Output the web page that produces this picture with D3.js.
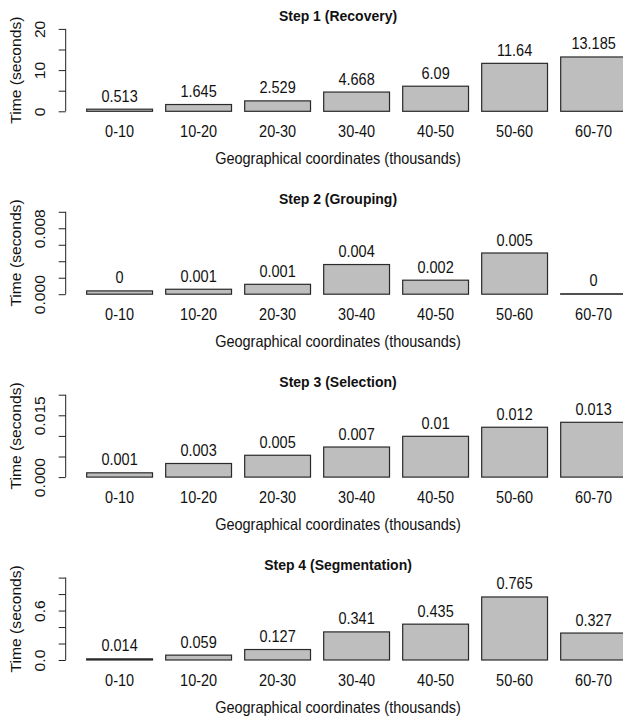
<!DOCTYPE html>
<html>
<head>
<meta charset="utf-8">
<script src="https://cdn.jsdelivr.net/npm/d3@7"></script>
<style>
  html, body { margin: 0; padding: 0; background: #fff; }
  svg { display: block; font-family: "Liberation Sans", Arial, sans-serif; }
</style>
</head>
<body>
<svg class="chart" width="623" height="723"></svg>
<script>
// categories shared by every panel
const categories = ["0-10", "10-20", "20-30", "30-40", "40-50", "50-60", "60-70"];

const titles = ["Step 1 (Recovery)", "Step 2 (Grouping)", "Step 3 (Selection)", "Step 4 (Segmentation)"];

// time in seconds
const recovery = [0.513, 1.645, 2.529, 4.668, 6.09, 11.64, 13.185];
const grouping = [0.0004, 0.0006, 0.0012, 0.0036, 0.0017, 0.0050, 0.00005];
const selection = [0.00104, 0.0033, 0.0053, 0.0073, 0.0099, 0.0121, 0.0133];
const segmentation = [0.014, 0.059, 0.127, 0.341, 0.435, 0.765, 0.327];

// y axis: top of range, ticks and which ticks carry a label
const yMax = [20, 0.010, 0.020, 1.0];
const yTicks = [
  [0, 5, 10, 15, 20],
  [0, 0.002, 0.004, 0.006, 0.008, 0.010],
  [0, 0.005, 0.010, 0.015, 0.020],
  [0, 0.2, 0.4, 0.6, 0.8, 1.0]
];
const yTickLabels = [
  ["0", "", "10", "", "20"],
  ["0.000", "", "", "", "0.008", ""],
  ["0.000", "", "", "0.015", ""],
  ["0.0", "", "", "0.6", "", ""]
];

const series = [recovery, grouping, selection, segmentation];

const svg = d3.select('.chart');

const panelStep = 182.9;
const zero0 = 111.3;     // baseline of the first panel
const spanH = 82.4;      // pixels from 0 to yMax
const axisX = 65.7;
const centerX = 338;
const ink = "#111";
const fs = 14.5;
const stretch = 1.08;    // glyphs in the picture are a bit taller than wide

const x = d3.scaleBand()
  .domain(categories)
  .range([80.1, 80.1 + 79 * categories.length])
  .paddingInner(0.1667)
  .paddingOuter(0.0833);

const fmt = v => String(Math.round(v * 1000) / 1000);

// horizontal text, stretched a little vertically
const tf = (px, py) => `translate(${px},${py}) scale(1,${stretch})`;
// vertical text reading upwards
const tfv = (px, py) => `translate(${px},${py}) scale(1,${stretch}) rotate(-90)`;

series.forEach((values, i) => {

  const zero = zero0 + i * panelStep;

  const y = d3.scaleLinear()
    .domain([0, yMax[i]])
    .range([zero, zero - spanH]);

  const g = svg.append('g').attr('class', 'panel');

  // title
  g.append('text')
    .attr('transform', tf(centerX, zero - 90.5))
    .attr('text-anchor', 'middle')
    .attr('font-weight', 'bold')
    .attr('font-size', 14)
    .attr('fill', ink)
    .text(titles[i]);

  // bars
  g.selectAll('rect')
    .data(values)
    .join('rect')
    .attr('x', (d, j) => x(categories[j]))
    .attr('width', x.bandwidth())
    .attr('y', d => y(d))
    .attr('height', d => y(0) - y(d))
    .attr('fill', '#bebebe')
    .attr('stroke', '#2a2a2a')
    .attr('stroke-width', 1.2);

  // value labels
  g.selectAll('text.val')
    .data(values)
    .join('text')
    .attr('class', 'val')
    .attr('transform', (d, j) => tf(x(categories[j]) + x.bandwidth() / 2, y(d) - 7.5))
    .attr('text-anchor', 'middle')
    .attr('font-size', fs)
    .attr('fill', ink)
    .text(d => fmt(d));

  // category labels
  g.selectAll('text.cat')
    .data(categories)
    .join('text')
    .attr('class', 'cat')
    .attr('transform', d => tf(x(d) + x.bandwidth() / 2, zero + 25.5))
    .attr('text-anchor', 'middle')
    .attr('font-size', fs)
    .attr('fill', ink)
    .text(d => d);

  // y axis in R style: line only between first and last tick
  const yAxis = d3.axisLeft(y)
    .tickValues(yTicks[i])
    .tickSize(7)
    .tickSizeOuter(0)
    .tickFormat((d, k) => yTickLabels[i][k]);

  const ax = g.append('g')
    .attr('transform', `translate(${axisX},0)`)
    .call(yAxis);

  ax.select('.domain')
    .attr('d', `M0,${y(0)}V${y(yMax[i])}`)
    .attr('stroke', '#222');
  ax.selectAll('.tick line').attr('stroke', '#222');
  ax.selectAll('.tick text')
    .attr('font-size', fs)
    .attr('font-family', '"Liberation Sans", Arial, sans-serif')
    .attr('fill', ink)
    .attr('text-anchor', 'middle')
    .attr('dy', null)
    .attr('x', null)
    .attr('y', null)
    .attr('transform', tfv(-20.7, 0));

  // y title
  g.append('text')
    .attr('transform', tfv(21, y(yMax[i] / 2)))
    .attr('text-anchor', 'middle')
    .attr('font-size', fs)
    .attr('fill', ink)
    .text('Time (seconds)');

  // x title
  g.append('text')
    .attr('transform', tf(centerX, zero + 52.5))
    .attr('text-anchor', 'middle')
    .attr('font-size', fs)
    .attr('fill', ink)
    .text('Geographical coordinates (thousands)');

});
</script>
</body>
</html>
